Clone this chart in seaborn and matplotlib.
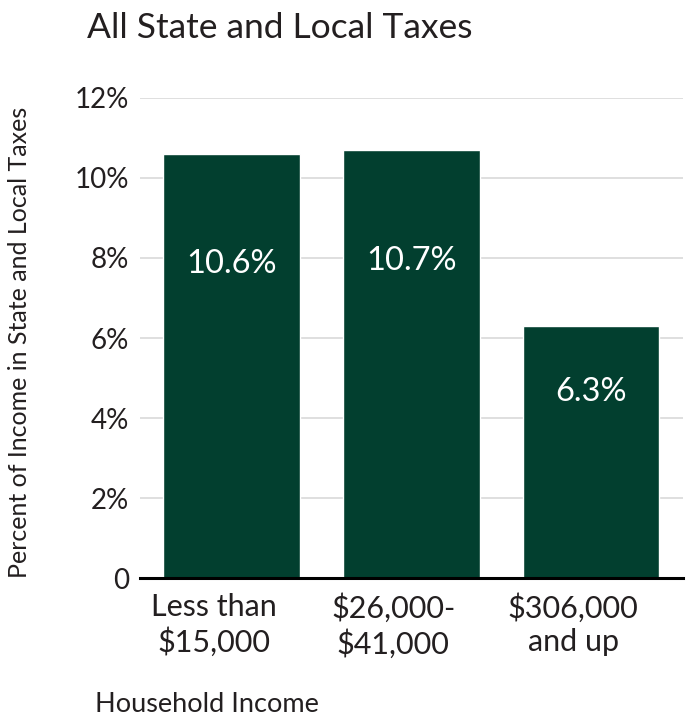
import matplotlib
matplotlib.use("Agg")
import matplotlib.pyplot as plt
import matplotlib.transforms as mtransforms
import seaborn as sns
import pandas as pd

# Effective state and local tax rate by household income group
categories = ["Less than\n$15,000", "$26,000-\n$41,000", "$306,000\nand up"]
tax_rates = [10.6, 10.7, 6.3]
value_labels = ["10.6%", "10.7%", "6.3%"]
y_ticks = [0, 2, 4, 6, 8, 10, 12]
y_tick_labels = ["0", "2%", "4%", "6%", "8%", "10%", "12%"]

sns.set_theme(style="white")
plt.rcParams["font.family"] = ["Lato", "DejaVu Sans"]

df = pd.DataFrame({"group": categories, "rate": tax_rates})

fig = plt.figure(figsize=(6.89, 7.2), dpi=100)
ax = fig.add_axes([0.203, 0.197, 0.788, 0.667])

bar_color = "#023f2f"
text_color = "#231f20"
sns.barplot(data=df, x="group", y="rate", color=bar_color, saturation=1,
            width=0.76, ax=ax, zorder=3)

ax.set_ylim(0, 12)
ax.set_xlim(-0.51, 2.51)
ax.set_yticks(y_ticks)
ax.set_yticklabels(y_tick_labels, fontsize=20, color=text_color)
ax.tick_params(axis="x", labelsize=22, colors=text_color, pad=11, length=0)
ax.tick_params(axis="y", length=0, pad=8)

# category labels sit slightly left of the bar centres
shift = mtransforms.ScaledTranslation(-18 / 100, 0, fig.dpi_scale_trans)
for lbl in ax.get_xticklabels():
    lbl.set_linespacing(1.22)
    lbl.set_transform(lbl.get_transform() + shift)

ax.yaxis.grid(True, color="#d9d9d9", linewidth=1.2, zorder=0)
ax.xaxis.grid(False)
for side in ["left", "right", "top"]:
    ax.spines[side].set_visible(False)
ax.spines["bottom"].set_color("black")
ax.spines["bottom"].set_linewidth(2.2)
ax.spines["bottom"].set_zorder(4)

for i, (v, txt) in enumerate(zip(tax_rates, value_labels)):
    ax.text(i, v * 0.74, txt, ha="center", va="center", color="white",
            fontsize=23.5, zorder=5)

ax.set_xlabel("")
ax.set_ylabel("Percent of Income in State and Local Taxes", fontsize=18,
              color=text_color)
ax.yaxis.set_label_coords(-0.2, 0.49)

fig.text(0.126, 0.961, "All State and Local Taxes", fontsize=25.5,
         color=text_color, ha="left", va="center")
fig.text(0.138, 0.021, "Household Income", fontsize=19.5, color=text_color,
         ha="left", va="center")

fig.savefig("out.png", dpi=100)
